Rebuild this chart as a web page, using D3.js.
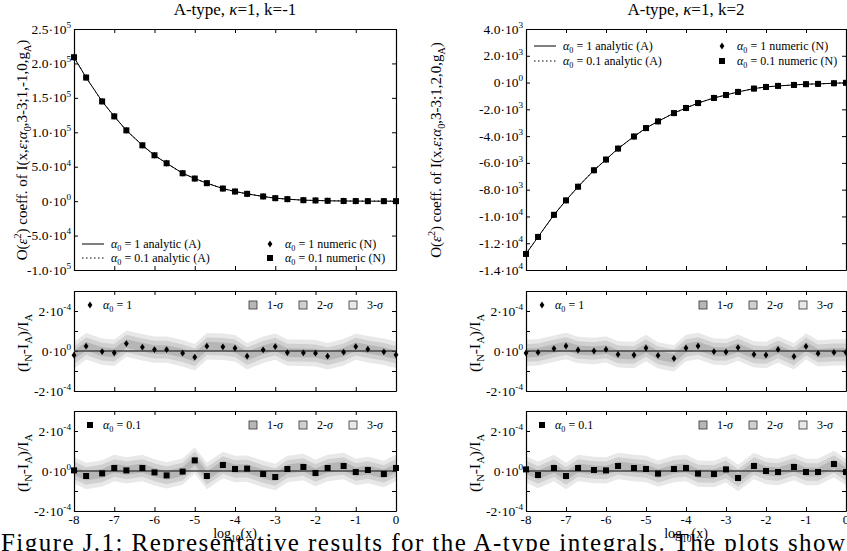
<!DOCTYPE html>
<html>
<head>
<meta charset="utf-8">
<script src="https://cdn.jsdelivr.net/npm/d3@7"></script>
<style>
  body { margin: 0; background: #fff; }
  svg { display: block; }
  text { font-family: "Liberation Serif", "Times New Roman", serif; fill: #000; }
</style>
</head>
<body>
<svg id="fig" width="847" height="551"></svg>
<script>
// sample points, log10(x)
const logX = [-8, -7.699, -7.301, -7, -6.699, -6.301, -6, -5.699, -5.301, -5, -4.699, -4.301, -4,
              -3.699, -3.301, -3, -2.699, -2.301, -2, -1.699, -1.301, -1, -0.699, -0.301, 0];
const xTicks = [-8, -7, -6, -5, -4, -3, -2, -1, 0];

// O(eps^2) coefficient, k = -1 and k = 2
const coefKm1 = [209000, 179500, 144800, 123100, 102800, 81100, 66600, 55000, 40500, 32800, 26100, 18300, 14000,
                 10600, 6800, 4300, 2900, 1400, 1000, 500, 200, 100, 0, 0, 0];
const coefK2 = [-12800, -11530, -9880, -8800, -7780, -6550, -5750, -4930, -4030, -3400, -2900, -2280, -1900,
                -1530, -1150, -930, -700, -450, -330, -250, -180, -120, -100, -50, -20];

// (I_N - I_A)/I_A in units of 1e-4
const relKm1A1 = [-0.21, 0.24, -0.03, -0.09, 0.37, 0.19, 0.07, 0.07, -0.11, -0.31, 0.24, 0.21, 0.14,
                  -0.26, 0.06, 0.22, -0.08, -0.09, -0.11, -0.26, -0.06, 0.22, 0.09, -0.04, -0.19];
const relKm1A01 = [0.03, -0.25, -0.12, 0.15, 0.03, 0.15, -0.07, -0.22, -0.03, 0.53, -0.25, 0.3, 0.1,
                   0.12, -0.15, -0.3, 0.1, 0.2, -0.1, 0.15, 0.25, -0.05, 0.05, -0.15, 0.15];
const relK2A1 = [-0.1, -0.07, 0.12, 0.25, 0.05, 0, 0.08, -0.17, -0.2, 0.15, -0.22, -0.37, 0.15,
                 0.25, -0.03, -0.05, 0.17, -0.17, -0.2, 0.08, -0.27, 0.23, -0.12, -0.07, -0.07];
const relK2A01 = [0.08, -0.2, 0.15, -0.25, 0.15, 0.05, 0.03, 0.25, 0.15, 0.1, -0.13, 0.1, 0.15,
                  -0.13, -0.15, 0.08, -0.35, 0.25, 0, -0.05, 0.2, -0.05, -0.05, 0.35, -0.05];
// 1-sigma error estimate, units of 1e-4
const sigma = [0.22, 0.22, 0.22, 0.22, 0.22, 0.22, 0.22, 0.22, 0.22, 0.22, 0.22, 0.22, 0.22,
               0.22, 0.22, 0.22, 0.22, 0.22, 0.22, 0.22, 0.22, 0.22, 0.22, 0.22, 0.22];

// tick values and labels [mantissa, exponent]
const ticksKm1 = [250000, 200000, 150000, 100000, 50000, 0, -50000, -100000];
const labelsKm1 = [["2.5", "5"], ["2.0", "5"], ["1.5", "5"], ["1.0", "5"], ["5.0", "4"], ["0", "0"], ["-5.0", "4"], ["-1.0", "5"]];
const ticksK2 = [4000, 2000, 0, -2000, -4000, -6000, -8000, -10000, -12000, -14000];
const labelsK2 = [["4.0", "3"], ["2.0", "3"], ["0", "0"], ["-2.0", "3"], ["-4.0", "3"], ["-6.0", "3"], ["-8.0", "3"],
                  ["-1.0", "4"], ["-1.2", "4"], ["-1.4", "4"]];
const relTicks = [-2, -1, 0, 1, 2, 3];
const relLabTicks = [2, 0, -2];
const relLabels = [["2", "-4"], ["0", "0"], ["-2", "-4"]];
const sigmaNames = ["1-σ", "2-σ", "3-σ"];
const bandColors = ["#b6b6b6", "#d0d0d0", "#e8e8e8"];

const svg = d3.select("#fig");

// write text with ^ / _ / italic pieces
function rich(t, segs, size) {
  let cur = 0;
  segs.forEach(([s, m]) => {
    const off = m === "^" ? -0.42 * size : m === "_" ? 0.28 * size : 0;
    const ts = t.append("tspan").attr("dy", off - cur).text(s);
    cur = off;
    if (m === "^" || m === "_") ts.attr("font-size", size * 0.68);
    if (m === "i") ts.attr("font-style", "italic");
  });
  return t;
}

function drawFrame(x, y, yTickVals) {
  const [ya, yb] = y.range();
  const noLab = a => a.tickSize(-4).tickSizeOuter(0).tickFormat("");
  const fr = svg.append("g");
  fr.append("g").attr("transform", `translate(0,${ya})`).call(noLab(d3.axisBottom(x).tickValues(xTicks)));
  fr.append("g").attr("transform", `translate(0,${yb})`).call(noLab(d3.axisTop(x).tickValues(xTicks)));
  fr.append("g").attr("transform", `translate(${x.range()[0]},0)`).call(noLab(d3.axisLeft(y).tickValues(yTickVals)));
  fr.append("g").attr("transform", `translate(${x.range()[1]},0)`).call(noLab(d3.axisRight(y).tickValues(yTickVals)));
  fr.selectAll(".domain").attr("stroke-width", 1.2);
  return fr;
}

function yLabels(x, y, vals, labs) {
  vals.forEach((v, i) => {
    rich(svg.append("text").attr("x", x.range()[0] - 3).attr("y", y(v) + 4.5)
      .attr("text-anchor", "end").attr("font-size", 13.5), [[labs[i][0] + "·10"], [labs[i][1], "^"]], 13.5);
  });
}

const diamond = "M0,-3.4L2.4,0L0,3.4L-2.4,0Z";
function marks(g, x, y, vals, kind) {
  if (kind === "d") {
    g.selectAll(null).data(vals).join("path")
      .attr("d", diamond).attr("transform", (d, i) => `translate(${x(logX[i])},${y(d)})`);
  } else {
    g.selectAll(null).data(vals).join("rect")
      .attr("x", (d, i) => x(logX[i]) - 3).attr("y", d => y(d) - 3).attr("width", 6).attr("height", 6);
  }
}

const cols = [
  { x0: 74, x1: 396, coef: coefKm1, ticks: ticksKm1, labels: labelsKm1, k: "-1", rA1: relKm1A1, rA01: relKm1A01,
    legendY: [244, 258], ylabX: 27, relLabX: 28 },
  { x0: 526, x1: 846, coef: coefK2, ticks: ticksK2, labels: labelsK2, k: "2", rA1: relK2A1, rA01: relK2A01,
    legendY: [46, 61], ylabX: 441, relLabX: 480 }
];

cols.forEach(c => {
  const x = d3.scaleLinear().domain([-8, 0]).range([c.x0, c.x1]);

  // ---- top panel
  const y = d3.scaleLinear().domain(d3.extent(c.ticks)).range([270, 29]);
  drawFrame(x, y, c.ticks);
  yLabels(x, y, c.ticks, c.labels);

  rich(svg.append("text").attr("x", (c.x0 + c.x1) / 2).attr("y", 15).attr("text-anchor", "middle").attr("font-size", 17),
    [["A-type, "], ["κ", "i"], ["=1, k=" + c.k]], 17);

  rich(svg.append("text").attr("transform", `translate(${c.ylabX},150) rotate(-90)`).attr("text-anchor", "middle").attr("font-size", 15),
    [["O("], ["ε", "i"], ["2", "^"], [") coeff. of I(x,"], ["ε", "i"], [";"], ["α", "i"], ["0", "_"],
     [",3-3;1," + c.k + ",0,g"], ["A", "_"], [")"]], 15);

  const line = d3.line().x((d, i) => x(logX[i])).y(d => y(d));
  svg.append("path").datum(c.coef).attr("d", line).attr("fill", "none").attr("stroke", "#000").attr("stroke-width", 1);
  svg.append("path").datum(c.coef).attr("d", line).attr("fill", "none").attr("stroke", "#000")
    .attr("stroke-width", 1).attr("stroke-dasharray", "1.5,2.5");
  const mg = svg.append("g").attr("fill", "#000");
  marks(mg, x, y, c.coef, "d");
  marks(mg, x, y, c.coef, "s");

  // legend
  const lg = svg.append("g");
  const [r1, r2] = c.legendY;
  lg.append("line").attr("x1", c.x0 + 8).attr("x2", c.x0 + 30).attr("y1", r1).attr("y2", r1).attr("stroke", "#000");
  lg.append("line").attr("x1", c.x0 + 8).attr("x2", c.x0 + 30).attr("y1", r2).attr("y2", r2).attr("stroke", "#000")
    .attr("stroke-dasharray", "1.5,2.5");
  rich(lg.append("text").attr("x", c.x0 + 37).attr("y", r1 + 4).attr("font-size", 12), [["α", "i"], ["0", "_"], [" = 1 analytic (A)"]], 12);
  rich(lg.append("text").attr("x", c.x0 + 37).attr("y", r2 + 4).attr("font-size", 12), [["α", "i"], ["0", "_"], [" = 0.1 analytic (A)"]], 12);
  lg.append("path").attr("d", diamond).attr("transform", `translate(${c.x0 + 196},${r1})`);
  lg.append("rect").attr("x", c.x0 + 193).attr("y", r2 - 3).attr("width", 6).attr("height", 6);
  rich(lg.append("text").attr("x", c.x0 + 211).attr("y", r1 + 4).attr("font-size", 12), [["α", "i"], ["0", "_"], [" = 1 numeric (N)"]], 12);
  rich(lg.append("text").attr("x", c.x0 + 211).attr("y", r2 + 4).attr("font-size", 12), [["α", "i"], ["0", "_"], [" = 0.1 numeric (N)"]], 12);

  // ---- ratio panels
  [[291, 391, c.rA1, "d", "1"], [411, 511, c.rA01, "s", "0.1"]].forEach(([t, b, vals, kind, a0], pi) => {
    const yr = d3.scaleLinear().domain([-2, 3]).range([b, t]);
    const bg = svg.append("g");
    [3, 2, 1].forEach(k => {
      const area = d3.area().x((d, i) => x(logX[i]))
        .y0((d, i) => yr(d - k * sigma[i])).y1((d, i) => yr(d + k * sigma[i]));
      bg.append("path").datum(vals).attr("d", area).attr("fill", bandColors[k - 1]);
    });
    drawFrame(x, yr, relTicks);
    svg.append("line").attr("x1", c.x0).attr("x2", c.x1).attr("y1", yr(0)).attr("y2", yr(0))
      .attr("stroke", "#444").attr("stroke-width", 1.5);
    yLabels(x, yr, relLabTicks, relLabels);
    rich(svg.append("text").attr("transform", `translate(${c.relLabX},${(t + b) / 2 + 2}) rotate(-90)`)
      .attr("text-anchor", "middle").attr("font-size", 15.5),
      [["(I"], ["N", "_"], ["-I"], ["A", "_"], [")/I"], ["A", "_"]], 15.5);

    const pg = svg.append("g").attr("fill", "#000");
    marks(pg, x, yr, vals, kind);

    // legend
    const ly = t + 14;
    if (kind === "d") pg.append("path").attr("d", diamond).attr("transform", `translate(${c.x0 + 16},${ly})`);
    else pg.append("rect").attr("x", c.x0 + 13).attr("y", ly - 3).attr("width", 6).attr("height", 6);
    rich(svg.append("text").attr("x", c.x0 + 29).attr("y", ly + 4).attr("font-size", 12), [["α", "i"], ["0", "_"], [" = " + a0]], 12);
    sigmaNames.forEach((nm, j) => {
      const bx = c.x1 - 147 + j * 50;
      svg.append("rect").attr("x", bx).attr("y", ly - 4).attr("width", 8).attr("height", 8)
        .attr("fill", bandColors[j]).attr("stroke", "#333").attr("stroke-width", 0.8);
      rich(svg.append("text").attr("x", bx + 18).attr("y", ly + 4).attr("font-size", 12), [[nm.slice(0, 2)], [nm.slice(2), "i"]], 12);
    });

    if (pi === 1) {
      xTicks.forEach(v => {
        svg.append("text").attr("x", x(v)).attr("y", 524).attr("text-anchor", "middle").attr("font-size", 13).text(v);
      });
      rich(svg.append("text").attr("x", (c.x0 + c.x1) / 2).attr("y", 538).attr("text-anchor", "middle").attr("font-size", 14),
        [["log"], ["10", "_"], ["(x)"]], 14);
    }
  });
});

svg.append("text").attr("x", 1).attr("y", 551).attr("font-size", 25).attr("textLength", 844).attr("lengthAdjust", "spacing")
  .text("Figure J.1: Representative results for the A-type integrals. The plots show");
</script>
</body>
</html>
